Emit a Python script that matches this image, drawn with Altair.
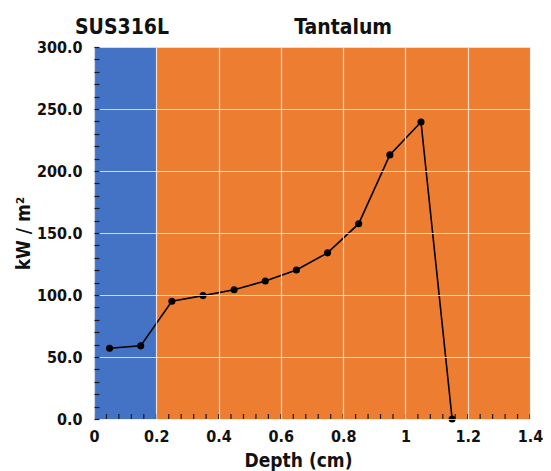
import altair as alt
import pandas as pd
import numpy as np

# data
depth = [0.05, 0.15, 0.25, 0.35, 0.45, 0.55, 0.65, 0.75, 0.85, 0.95, 1.05, 1.15]
heat_flux = [57.0, 59.0, 95.0, 99.5, 104.3, 111.3, 120.2, 134.0, 157.5, 213.0, 239.5, 0.0]

region_names = ["SUS316L", "Tantalum"]
region_start = [0.0, 0.2]
region_end = [0.2, 1.4]
region_colors = ["#4472C4", "#ED7D31"]
label_x = [0.09, 0.80]

x_major = [0, 0.2, 0.4, 0.6, 0.8, 1.0, 1.2, 1.4]
y_major = [0, 50, 100, 150, 200, 250, 300]
x_minor = [round(v, 2) for v in np.arange(0, 1.4001, 0.04)]
y_minor = list(range(0, 301, 10))

FONT = "DejaVu Sans Condensed, Liberation Sans, sans-serif"

df = pd.DataFrame({"depth": depth, "flux": heat_flux})
regions = pd.DataFrame({"name": region_names, "x0": region_start, "x1": region_end,
                        "label_x": label_x})
xminor_df = pd.DataFrame({"t": x_minor})

xscale = alt.Scale(domain=[0, 1.4], nice=False, zero=False)
yscale = alt.Scale(domain=[0, 300], nice=False, zero=False)

bands = alt.Chart(regions).mark_rect().encode(
    x=alt.X("x0:Q", scale=xscale, axis=alt.Axis(
        values=x_major, labelExpr="datum.value == 1 ? '1' : (datum.value == 0 ? '0' : format(datum.value, '.1f'))",
        title="Depth (cm)", grid=True, gridColor="#f2f2f2", gridOpacity=0.8, gridWidth=1.2,
        ticks=False, tickSize=0, domain=False, labelPadding=9, labelFlush=False,
        labelFont=FONT, labelFontSize=16, labelFontWeight="bold", labelColor="#111",
        titleFont=FONT, titleFontSize=19, titleFontWeight="bold", titleColor="#111",
        titleX=204, titleY=47, titleBaseline="alphabetic", zindex=1)),
    x2="x1:Q",
    y=alt.value(0),
    y2=alt.value(372),
    color=alt.Color("name:N", scale=alt.Scale(domain=region_names, range=region_colors), legend=None),
)

labels = alt.Chart(regions).mark_text(
    font=FONT, fontSize=21, fontWeight="bold", color="#111", baseline="alphabetic"
).encode(
    x=alt.X("label_x:Q", scale=xscale, axis=None),
    y=alt.value(-13),
    text="name:N",
)

line = alt.Chart(df).mark_line(color="black", strokeWidth=1.6, point=alt.OverlayMarkDef(
    filled=True, color="black", size=50, opacity=1)).encode(
    x=alt.X("depth:Q", scale=xscale, axis=None),
    y=alt.Y("flux:Q", scale=yscale, axis=alt.Axis(
        values=y_major, format=".1f", title="kW / m²", grid=True, gridColor="#f2f2f2",
        gridOpacity=0.8, gridWidth=1.2, ticks=False, tickSize=0, domain=False, labelPadding=12,
        labelFlush=False,
        labelFont=FONT, labelFontSize=16, labelFontWeight="bold", labelColor="#111",
        titleFont=FONT, titleFontSize=19, titleFontWeight="bold", titleColor="#111",
        titleX=-71, titleY=186, titleBaseline="middle", titleAngle=-90, zindex=1)),
)

minor_y = alt.Chart(df).mark_point(opacity=0).encode(
    x=alt.X("depth:Q", scale=xscale, axis=None),
    y=alt.Y("flux:Q", scale=yscale, axis=alt.Axis(
        orient="left", values=y_minor, labels=False, grid=False, domain=False, title=None,
        ticks=True, tickSize=5, offset=-5, tickColor="#1a1a1a", tickWidth=1.2, zindex=2)),
)

minor_x = alt.Chart(xminor_df).mark_tick(
    orient="vertical", size=10, thickness=1.2, color="#1a1a1a", clip=True, opacity=1
).encode(
    x=alt.X("t:Q", scale=xscale, axis=None),
    y=alt.Y(datum=0, scale=yscale, axis=None),
)

chart = alt.layer(bands, line, labels, minor_y, minor_x).resolve_axis(
    x="independent", y="independent"
).properties(
    width=436, height=372,
    autosize=alt.AutoSizeParams(type="none"),
    padding={"left": 86, "top": 39, "right": 13, "bottom": 62},
).configure_view(stroke="#333", strokeWidth=1.5).configure(background="white")

chart.save("out.html", embed_options={"renderer": "svg", "actions": False})
